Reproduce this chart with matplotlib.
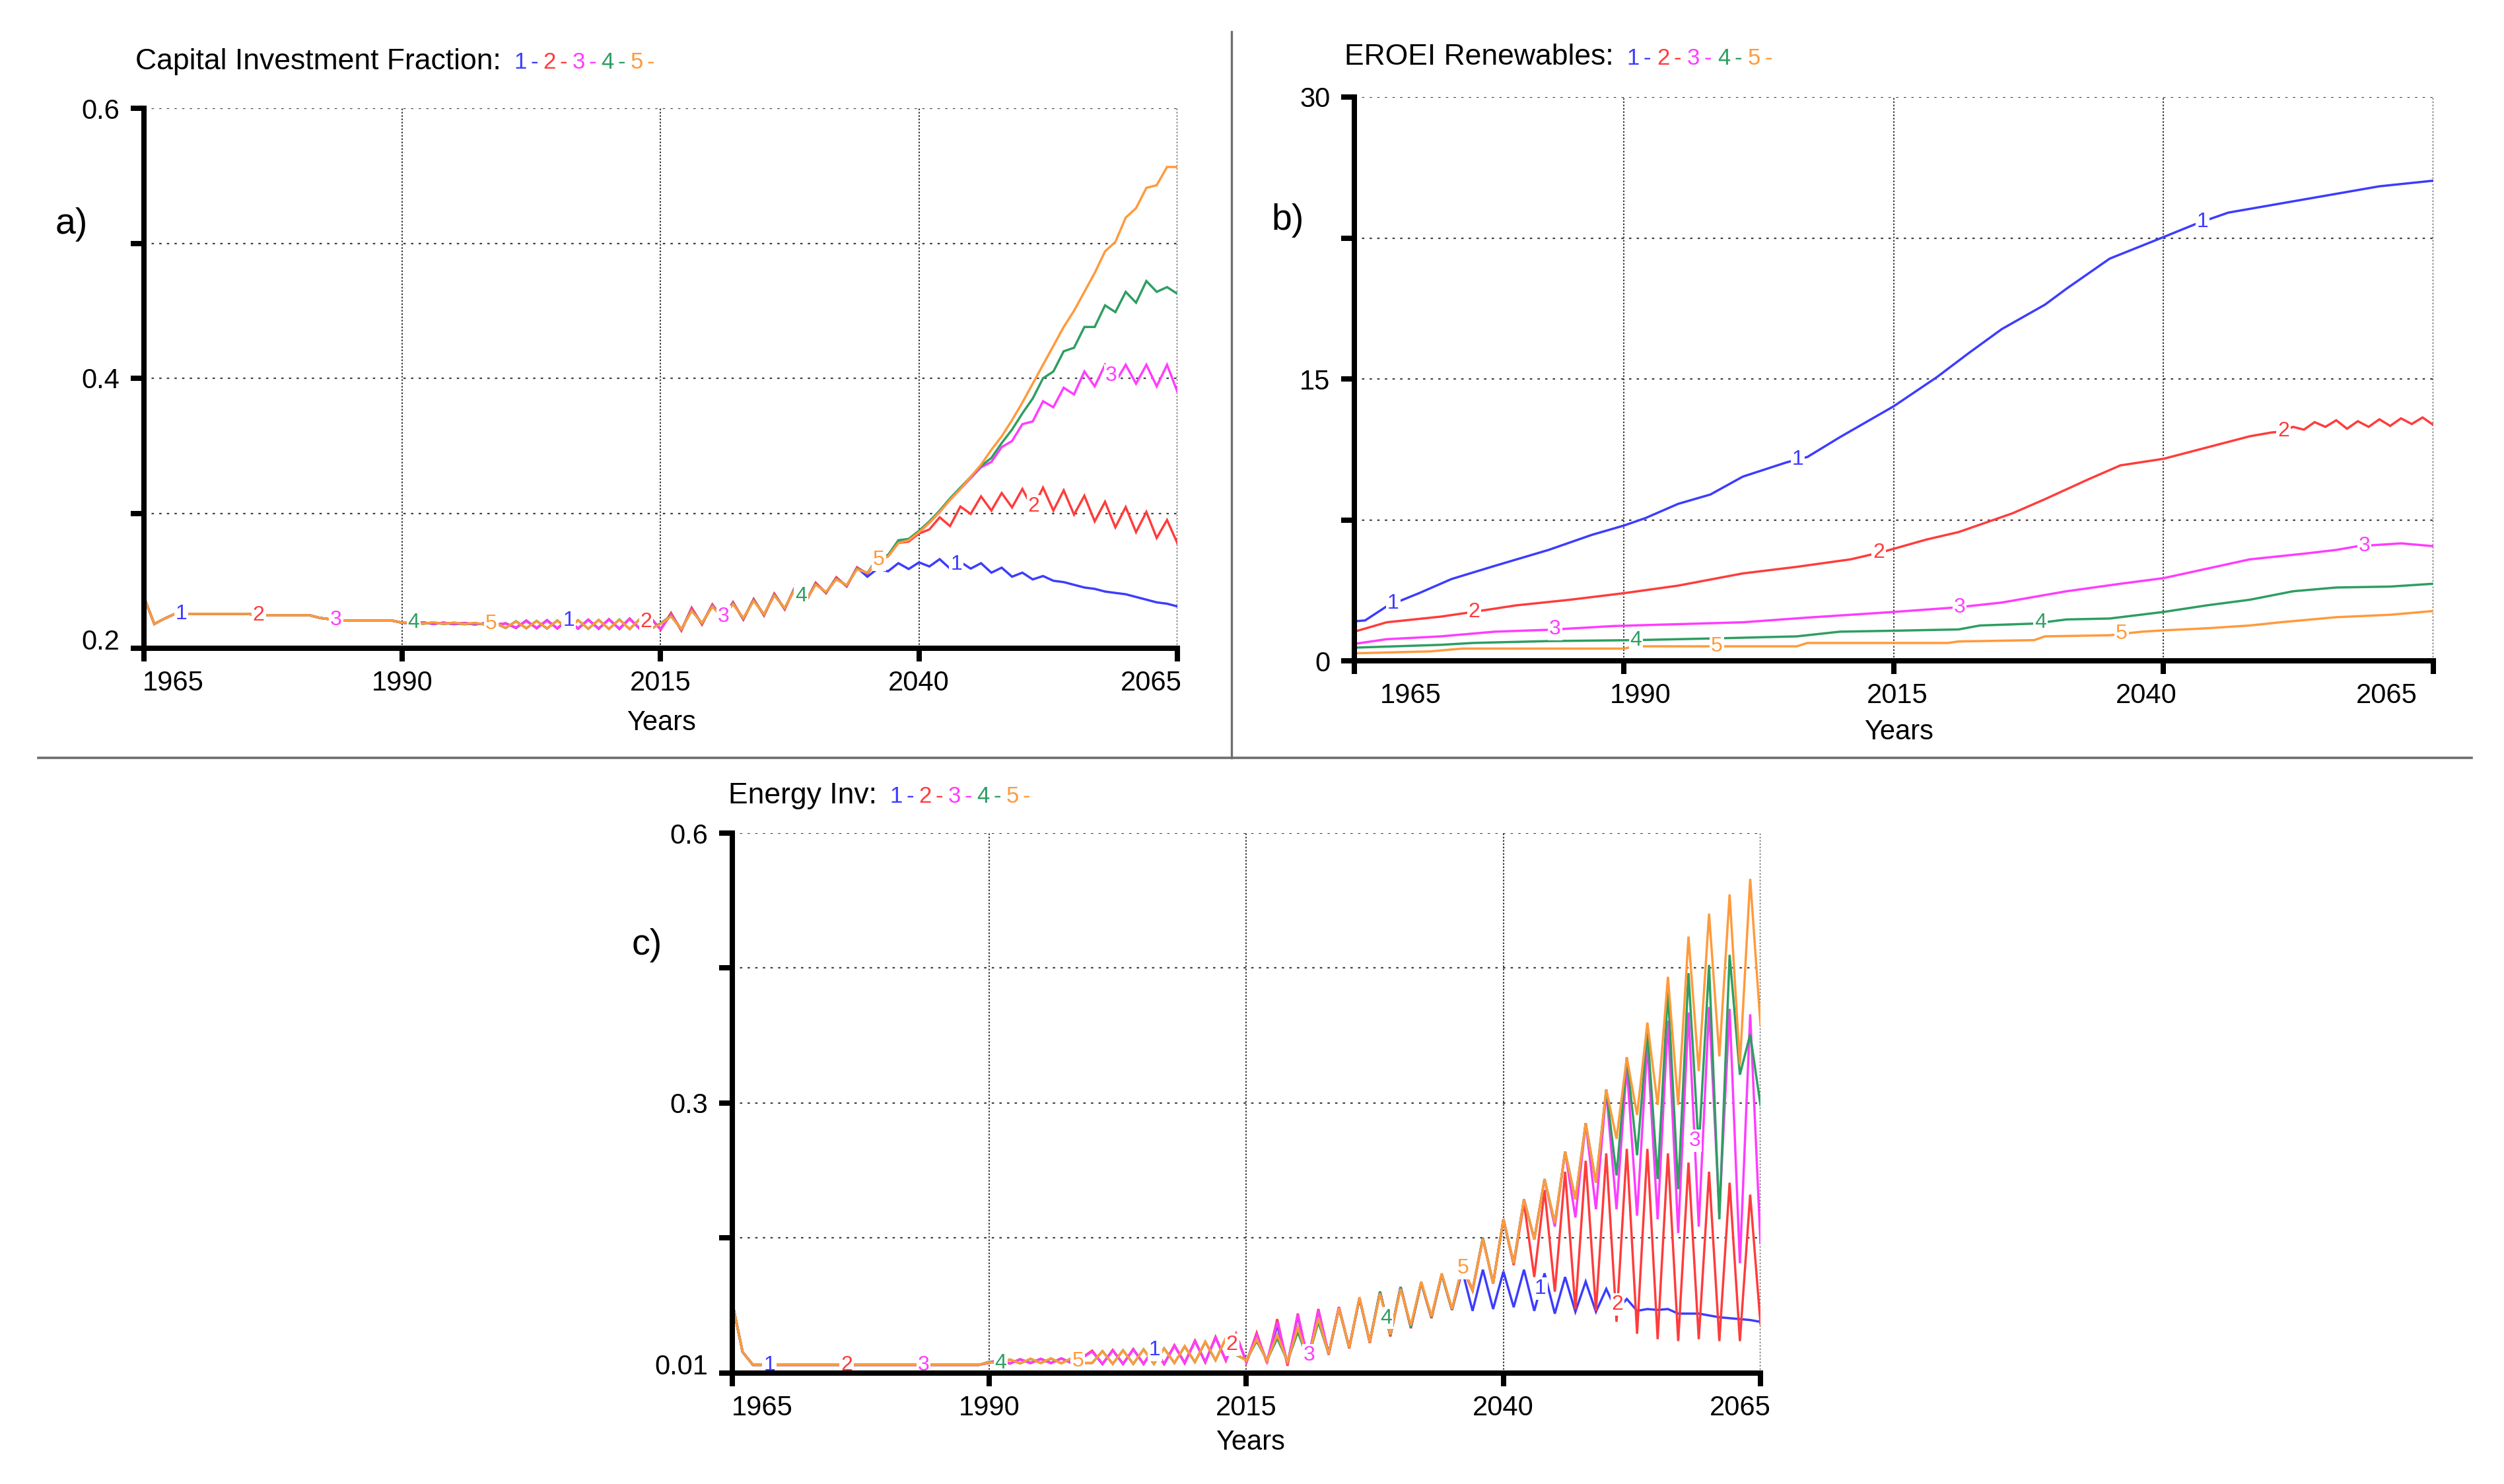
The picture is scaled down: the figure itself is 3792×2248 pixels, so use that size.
import numpy as np
import matplotlib
matplotlib.use("Agg")
import matplotlib.pyplot as plt
from matplotlib.transforms import ScaledTranslation

plt.rcParams['font.family'] = ['Liberation Sans', 'DejaVu Sans']

# ---------------- DATA ----------------
years = list(range(1965, 2066))
series_names = ["1", "2", "3", "4", "5"]
x_ticks = [1965, 1990, 2015, 2040, 2065]
x_tick_labels = ["1965", "1990", "2015", "2040", "2065"]

# (a) Capital Investment Fraction
cif_early = [0.2380, 0.2180, 0.2220, 0.2255, 0.2255, 0.2255, 0.2255, 0.2255, 0.2255, 0.2255,
             0.2255, 0.2245, 0.2245, 0.2245, 0.2245, 0.2245, 0.2245, 0.2225, 0.2215, 0.2205,
             0.2205, 0.2205, 0.2205, 0.2205, 0.2205]
cif_1 = [0.2190, 0.2184, 0.2192, 0.2180, 0.2190, 0.2178, 0.2188, 0.2176, 0.2186, 0.2174,
         0.2185, 0.2150, 0.2205, 0.2148, 0.2208, 0.2146, 0.2210, 0.2145, 0.2212, 0.2144, 0.2215, 0.2143, 0.2220, 0.2142, 0.2226,
         0.2140, 0.2255, 0.2135, 0.2295, 0.2180, 0.2322, 0.2220, 0.2338, 0.2215, 0.2362, 0.2245, 0.2402, 0.2290, 0.2452, 0.2340, 0.2482, 0.2410, 0.2522, 0.2460, 0.2597, 0.2530,
         0.2590, 0.2570, 0.2630, 0.2587, 0.2636, 0.2606, 0.2660, 0.2590, 0.2640, 0.2590, 0.2630, 0.2560, 0.2597, 0.2530, 0.2560,
         0.2510, 0.2535, 0.2500, 0.2490, 0.2470, 0.2450, 0.2440, 0.2420, 0.2410, 0.2400, 0.2380, 0.2360, 0.2340, 0.2330, 0.2310]
cif_2 = [0.2190, 0.2185, 0.2191, 0.2181, 0.2189, 0.2179, 0.2187, 0.2177, 0.2185, 0.2175,
         0.2184, 0.2152, 0.2203, 0.2150, 0.2206, 0.2148, 0.2209, 0.2147, 0.2211, 0.2146, 0.2214, 0.2145, 0.2218, 0.2144, 0.2230,
         0.2138, 0.2262, 0.2130, 0.2300, 0.2175, 0.2325, 0.2218, 0.2342, 0.2212, 0.2365, 0.2242, 0.2405, 0.2288, 0.2455, 0.2338, 0.2486, 0.2408, 0.2526, 0.2458, 0.2600, 0.2552,
         0.2650, 0.2680, 0.2780, 0.2790, 0.2850, 0.2880, 0.2970, 0.2905, 0.3050, 0.2995, 0.3125, 0.3020, 0.3150, 0.3043, 0.3180,
         0.3035, 0.3190, 0.3020, 0.3170, 0.2990, 0.3130, 0.2940, 0.3085, 0.2896, 0.3046, 0.2860, 0.3010, 0.2817, 0.2950, 0.2778]
cif_3 = [0.2189, 0.2186, 0.2190, 0.2182, 0.2188, 0.2180, 0.2186, 0.2178, 0.2184, 0.2176,
         0.2183, 0.2154, 0.2201, 0.2152, 0.2204, 0.2150, 0.2207, 0.2149, 0.2209, 0.2148, 0.2212, 0.2147, 0.2216, 0.2146, 0.2224,
         0.2142, 0.2250, 0.2138, 0.2288, 0.2182, 0.2318, 0.2224, 0.2334, 0.2218, 0.2358, 0.2248, 0.2398, 0.2293, 0.2448, 0.2343, 0.2478, 0.2413, 0.2518, 0.2463, 0.2594, 0.2555,
         0.2660, 0.2690, 0.2790, 0.2800, 0.2860, 0.2930, 0.3010, 0.3100, 0.3180, 0.3260, 0.3340, 0.3380, 0.3490, 0.3535, 0.3660,
         0.3680, 0.3830, 0.3785, 0.3930, 0.3880, 0.4050, 0.3940, 0.4100, 0.3970, 0.4100, 0.3960, 0.4100, 0.3940, 0.4100, 0.3900]
cif_4 = [0.2188, 0.2192, 0.2181, 0.2191, 0.2179, 0.2189, 0.2177, 0.2187, 0.2175, 0.2185,
         0.2150, 0.2200, 0.2148, 0.2203, 0.2146, 0.2206, 0.2145, 0.2208, 0.2144, 0.2210, 0.2143, 0.2213, 0.2142, 0.2218, 0.2140,
         0.2185, 0.2240, 0.2140, 0.2280, 0.2185, 0.2312, 0.2225, 0.2330, 0.2222, 0.2355, 0.2250, 0.2395, 0.2295, 0.2445, 0.2345, 0.2475, 0.2415, 0.2515, 0.2465, 0.2590, 0.2558,
         0.2670, 0.2690, 0.2800, 0.2810, 0.2870, 0.2940, 0.3020, 0.3110, 0.3190, 0.3270, 0.3350, 0.3410, 0.3520, 0.3620, 0.3740,
         0.3850, 0.4000, 0.4050, 0.4200, 0.4226, 0.4380, 0.4380, 0.4540, 0.4490, 0.4640, 0.4560, 0.4720, 0.4640, 0.4675, 0.4626]
cif_5 = [0.2190, 0.2194, 0.2183, 0.2193, 0.2181, 0.2191, 0.2179, 0.2189, 0.2177, 0.2187,
         0.2152, 0.2198, 0.2150, 0.2201, 0.2148, 0.2204, 0.2147, 0.2206, 0.2146, 0.2208, 0.2145, 0.2211, 0.2144, 0.2216, 0.2142,
         0.2180, 0.2236, 0.2142, 0.2276, 0.2188, 0.2308, 0.2228, 0.2326, 0.2225, 0.2350, 0.2253, 0.2390, 0.2298, 0.2440, 0.2348, 0.2470, 0.2418, 0.2510, 0.2468, 0.2585, 0.2560,
         0.2650, 0.2680, 0.2780, 0.2800, 0.2860, 0.2930, 0.3010, 0.3100, 0.3180, 0.3270, 0.3360, 0.3470, 0.3570, 0.3690, 0.3820,
         0.3960, 0.4100, 0.4240, 0.4380, 0.4500, 0.4640, 0.4780, 0.4940, 0.5010, 0.5190, 0.5260, 0.5410, 0.5430, 0.5565, 0.5565]

# (b) EROEI Renewables (sparse points per run)
b_years_1 = [1965, 1966, 1968, 1971, 1974, 1978, 1983, 1987, 1990, 1992, 1995, 1998, 2001, 2005, 2007, 2010,
             2015, 2019, 2022, 2025, 2029, 2031, 2035, 2040, 2043, 2046, 2051, 2055, 2060, 2065]
b_vals_1 = [2.10, 2.15, 2.90, 3.60, 4.35, 5.05, 5.90, 6.70, 7.20, 7.60, 8.35, 8.85, 9.80, 10.55, 10.85, 11.90,
            13.55, 15.10, 16.40, 17.65, 18.95, 19.80, 21.40, 22.55, 23.25, 23.85, 24.35, 24.75, 25.25, 25.55]
b_years_2 = [1965, 1968, 1973, 1976, 1980, 1985, 1990, 1995, 2001, 2006, 2011, 2014, 2018, 2021, 2026, 2029,
             2033, 2036, 2040, 2044, 2048, 2050, 2051, 2052, 2053, 2054, 2055, 2056, 2057, 2058, 2059, 2060,
             2061, 2062, 2063, 2064, 2065]
b_vals_2 = [1.55, 2.05, 2.35, 2.60, 2.95, 3.25, 3.60, 4.00, 4.65, 5.00, 5.40, 5.80, 6.45, 6.85, 7.85, 8.60,
            9.65, 10.40, 10.75, 11.35, 11.95, 12.15, 12.20, 12.45, 12.30, 12.70, 12.45, 12.80, 12.35, 12.75, 12.45, 12.85,
            12.50, 12.90, 12.60, 12.95, 12.55]
b_years_3 = [1965, 1968, 1973, 1978, 1983, 1989, 1995, 2001, 2007, 2015, 2021, 2025, 2031, 2036, 2040, 2044,
             2048, 2053, 2056, 2058, 2062, 2065]
b_vals_3 = [0.90, 1.15, 1.30, 1.55, 1.65, 1.85, 1.95, 2.05, 2.30, 2.60, 2.85, 3.10, 3.70, 4.10, 4.40, 4.90,
            5.40, 5.70, 5.90, 6.10, 6.25, 6.10]
b_years_4 = [1965, 1973, 1976, 1983, 1991, 1999, 2006, 2010, 2015, 2021, 2023, 2028, 2031, 2035, 2040, 2044,
             2048, 2052, 2056, 2061, 2065]
b_vals_4 = [0.70, 0.85, 0.95, 1.05, 1.10, 1.20, 1.30, 1.55, 1.60, 1.67, 1.88, 1.98, 2.20, 2.25, 2.60, 2.95,
            3.25, 3.70, 3.90, 3.95, 4.10]
b_years_5 = [1965, 1972, 1975, 1990, 1991, 2006, 2007, 2020, 2021, 2028, 2029, 2035, 2038, 2040, 2044, 2048,
             2051, 2056, 2061, 2065]
b_vals_5 = [0.40, 0.50, 0.65, 0.65, 0.77, 0.77, 0.95, 0.95, 1.03, 1.10, 1.30, 1.36, 1.55, 1.62, 1.73, 1.88,
            2.06, 2.32, 2.45, 2.65]

# (c) Energy Inv
ei_early = [0.087, 0.033, 0.019, 0.019, 0.019, 0.019, 0.019, 0.019, 0.019, 0.019,
            0.019, 0.019, 0.019, 0.019, 0.019, 0.019, 0.019, 0.019, 0.019, 0.019,
            0.019, 0.019, 0.019, 0.019, 0.019]
ei_1 = [0.0215, 0.0245, 0.0205, 0.0250, 0.0210, 0.0255, 0.0210, 0.0260, 0.0210, 0.0265,
        0.0340, 0.0200, 0.0350, 0.0200, 0.0360, 0.0200, 0.0370, 0.0200, 0.0400, 0.0210, 0.0450, 0.0220, 0.0490, 0.0240, 0.0520,
        0.0220, 0.0500, 0.0230, 0.0620, 0.0210, 0.0720, 0.0240, 0.0780, 0.0310, 0.0820, 0.0380, 0.0920, 0.0440, 0.0990, 0.0510, 0.1040, 0.0600, 0.1090, 0.0710, 0.1180, 0.0790,
        0.1220, 0.0780, 0.1230, 0.0800, 0.1210, 0.0820, 0.1230, 0.0780, 0.1190, 0.0750, 0.1150, 0.0770, 0.1100, 0.0770, 0.1020,
        0.0780, 0.0910, 0.0780, 0.0800, 0.0790, 0.0800, 0.0750, 0.0750, 0.0750, 0.0730, 0.0710, 0.0700, 0.0690, 0.0680, 0.0660]
ei_2 = [0.0214, 0.0246, 0.0204, 0.0251, 0.0209, 0.0256, 0.0209, 0.0261, 0.0209, 0.0266,
        0.0345, 0.0198, 0.0352, 0.0199, 0.0362, 0.0199, 0.0372, 0.0199, 0.0405, 0.0208, 0.0455, 0.0218, 0.0495, 0.0235, 0.0530,
        0.0215, 0.0540, 0.0210, 0.0690, 0.0180, 0.0750, 0.0220, 0.0800, 0.0300, 0.0820, 0.0370, 0.0920, 0.0430, 0.0990, 0.0500, 0.1040, 0.0590, 0.1090, 0.0700, 0.1180, 0.0790,
        0.1250, 0.1000, 0.1570, 0.1080, 0.1780, 0.1280, 0.1960, 0.1150, 0.2100, 0.0990, 0.2300, 0.0800, 0.2420, 0.0780, 0.2500,
        0.0660, 0.2550, 0.0530, 0.2550, 0.0470, 0.2500, 0.0450, 0.2400, 0.0470, 0.2300, 0.0450, 0.2180, 0.0450, 0.2050, 0.0640]
ei_3 = [0.0216, 0.0244, 0.0206, 0.0249, 0.0211, 0.0254, 0.0211, 0.0259, 0.0211, 0.0264,
        0.0335, 0.0202, 0.0348, 0.0201, 0.0358, 0.0201, 0.0368, 0.0201, 0.0398, 0.0212, 0.0448, 0.0222, 0.0488, 0.0242, 0.0515,
        0.0225, 0.0520, 0.0225, 0.0660, 0.0200, 0.0740, 0.0240, 0.0790, 0.0310, 0.0820, 0.0380, 0.0920, 0.0440, 0.0990, 0.0510, 0.1040, 0.0600, 0.1090, 0.0710, 0.1180, 0.0790,
        0.1260, 0.1010, 0.1570, 0.1080, 0.1780, 0.1300, 0.2000, 0.1560, 0.2220, 0.1700, 0.2520, 0.1800, 0.2830, 0.1890, 0.3180,
        0.1890, 0.3450, 0.1820, 0.3700, 0.1780, 0.3950, 0.1630, 0.4040, 0.1700, 0.4100, 0.1850, 0.4080, 0.1300, 0.4020, 0.1520]
ei_4 = [0.0225, 0.0205, 0.0248, 0.0206, 0.0254, 0.0210, 0.0258, 0.0208, 0.0262, 0.0212,
        0.0210, 0.0340, 0.0200, 0.0350, 0.0200, 0.0360, 0.0200, 0.0370, 0.0210, 0.0390, 0.0220, 0.0440, 0.0240, 0.0480, 0.0300,
        0.0240, 0.0450, 0.0240, 0.0480, 0.0230, 0.0550, 0.0250, 0.0660, 0.0310, 0.0800, 0.0380, 0.0920, 0.0440, 0.0990, 0.0510, 0.1040, 0.0600, 0.1090, 0.0710, 0.1180, 0.0790,
        0.1270, 0.1010, 0.1580, 0.1080, 0.1780, 0.1300, 0.2000, 0.1560, 0.2220, 0.1740, 0.2520, 0.2000, 0.2830, 0.2180, 0.3200,
        0.2260, 0.3550, 0.2480, 0.3840, 0.2220, 0.4280, 0.2110, 0.4470, 0.2550, 0.4560, 0.1780, 0.4670, 0.3360, 0.3800, 0.3030]
ei_5 = [0.0220, 0.0200, 0.0250, 0.0205, 0.0258, 0.0210, 0.0262, 0.0205, 0.0265, 0.0210,
        0.0212, 0.0338, 0.0201, 0.0348, 0.0201, 0.0358, 0.0201, 0.0368, 0.0211, 0.0395, 0.0221, 0.0445, 0.0241, 0.0485, 0.0310,
        0.0235, 0.0470, 0.0235, 0.0520, 0.0225, 0.0600, 0.0245, 0.0700, 0.0310, 0.0810, 0.0380, 0.0930, 0.0440, 0.0970, 0.0520, 0.1020, 0.0620, 0.1100, 0.0720, 0.1190, 0.0800,
        0.1270, 0.1010, 0.1570, 0.1080, 0.1780, 0.1300, 0.2000, 0.1560, 0.2220, 0.1740, 0.2520, 0.2000, 0.2830, 0.2180, 0.3200,
        0.2660, 0.3550, 0.2920, 0.3930, 0.3030, 0.4430, 0.3030, 0.4870, 0.3400, 0.5120, 0.3560, 0.5330, 0.3470, 0.5500, 0.3910]

# line-label placement along the x axis (Vensim style)
label_years = [1968.6, 1976.1, 1983.6, 1991.1, 1998.6, 2006.1, 2013.6, 2021.1, 2028.6, 2036.1, 2043.6, 2051.1, 2058.6]
label_series = [1, 2, 3, 4, 5, 1, 2, 3, 4, 5, 1, 2, 3]

# ---------------- STYLE ----------------
colors = ['#3c3cff', '#ff3c3c', '#ff3cff', '#2e9e62', '#ff9a3c']
W, H, DPI = 3792, 2248, 100
fig = plt.figure(figsize=(W / DPI, H / DPI), dpi=DPI)
fig.patch.set_facecolor('white')


def fx(px):
    return px / W


def fy(py):
    return 1 - py / H


def make_axes(l, t, r, b):
    return fig.add_axes([fx(l), fy(b), (r - l) / W, (b - t) / H])


def offset(lbl, dx, dy):
    lbl.set_transform(lbl.get_transform() + ScaledTranslation(dx / DPI, dy / DPI, fig.dpi_scale_trans))


def style_axes(ax, ylim, yticks, ylabels, xoffs, bottom_up):
    ax.set_xlim(1965, 2065)
    ax.set_ylim(*ylim)
    ax.set_xticks(x_ticks)
    ax.set_xticklabels(x_tick_labels)
    ax.set_yticks(yticks)
    ax.set_yticklabels(ylabels)
    for s in ['top', 'right']:
        ax.spines[s].set_visible(False)
    for s in ['left', 'bottom']:
        ax.spines[s].set_linewidth(5.8)
        ax.spines[s].set_zorder(6)
    ax.tick_params(axis='both', length=14.4, width=5.8, labelsize=30, color='black', direction='out')
    ax.tick_params(axis='x', pad=9)
    ax.tick_params(axis='y', pad=12)
    ax.grid(True, axis='y', color='#404040', linewidth=1.6, linestyle=(0, (1.6, 3.6)))
    ax.grid(True, axis='x', color='#404040', linewidth=1.5, linestyle=(0, (1.2, 1.2)))
    ax.set_axisbelow(True)
    xl = ax.get_xticklabels()
    xl[0].set_ha('left')
    xl[-1].set_ha('right')
    for lbl, dx in zip(xl, xoffs):
        offset(lbl, dx, 0)
    yl = ax.get_yticklabels()
    offset(yl[0], 0, bottom_up)
    ax.set_facecolor('none')


def draw_series(ax, xs_list, ys_list):
    for k in range(5):
        ax.plot(xs_list[k], ys_list[k], color=colors[k], lw=2.5, zorder=3, solid_joinstyle='miter')
    for yr, s in zip(label_years, label_series):
        v = np.interp(yr, xs_list[s - 1], ys_list[s - 1])
        ax.text(yr, v, series_names[s - 1], color=colors[s - 1], fontsize=23, ha='center', va='center',
                zorder=5, bbox=dict(boxstyle='square,pad=0.06', fc='white', ec='none'))


# ---- panel a
ax_a = make_axes(218, 164, 1783, 982)
a_x = [years] * 5
a_y = [cif_early + cif_1, cif_early + cif_2, cif_early + cif_3, cif_early + cif_4, cif_early + cif_5]
draw_series(ax_a, a_x, a_y)
style_axes(ax_a, (0.2, 0.6), [0.2, 0.3, 0.4, 0.5, 0.6], ['0.2', '', '0.4', '', '0.6'],
           [-2, 0, 0, 0, 7], 14)

# ---- panel b
ax_b = make_axes(2051, 147, 3685, 1001)
b_x = [b_years_1, b_years_2, b_years_3, b_years_4, b_years_5]
b_y = [b_vals_1, b_vals_2, b_vals_3, b_vals_4, b_vals_5]
draw_series(ax_b, b_x, b_y)
style_axes(ax_b, (0, 30), [0, 7.5, 15, 22.5, 30], ['0', '', '15', '', '30'],
           [39, 25, 5, -26, -24], 0)

# ---- panel c
ax_c = make_axes(1109, 1262, 2666, 2080)
c_x = [years] * 5
c_y = [ei_early + ei_1, ei_early + ei_2, ei_early + ei_3, ei_early + ei_4, ei_early + ei_5]
draw_series(ax_c, c_x, c_y)
c_ticks = [0.01, 0.1575, 0.305, 0.4525, 0.6]
style_axes(ax_c, (0.01, 0.6), c_ticks, ['0.01', '', '0.3', '', '0.6'],
           [-1, 0, 0, 0, 16], 13)

# ---- separators
fig.add_artist(plt.Line2D([fx(1865), fx(1865)], [fy(48), fy(1148)], color='#6e6e6e', lw=2.4))
fig.add_artist(plt.Line2D([fx(58), fx(3743)], [fy(1148), fy(1148)], color='#6e6e6e', lw=2.6))

# ---- titles + inline legends
renderer = fig.canvas.get_renderer()
titles = [("Capital Investment Fraction:", 205, 93, 44),
          ("EROEI Renewables:", 2036, 87, 46),
          ("Energy Inv:", 1103, 1206, 44)]
for text, tx, ty, step in titles:
    t = fig.text(fx(tx), fy(ty), text, fontsize=32, ha='left', va='center', color='black')
    bb = t.get_window_extent(renderer=renderer)
    start = bb.x1 + 20
    for i in range(5):
        fig.text((start + 9 + step * i) / W, fy(ty + 1), series_names[i], fontsize=25, color=colors[i],
                 ha='center', va='center')
        fig.text((start + 30 + step * i) / W, fy(ty + 1), '-', fontsize=25, color=colors[i],
                 ha='center', va='center')

# ---- axis labels and panel letters
for lx, ly in [(1002, 1095), (2876, 1109), (1894, 2185)]:
    fig.text(fx(lx), fy(ly), 'Years', fontsize=30, ha='center', va='center')
for letter, lx, ly in [('a)', 108, 340), ('b)', 1950, 334), ('c)', 980, 1432)]:
    fig.text(fx(lx), fy(ly), letter, fontsize=40, ha='center', va='center')

fig.savefig('out.png', dpi=DPI, facecolor='white')
